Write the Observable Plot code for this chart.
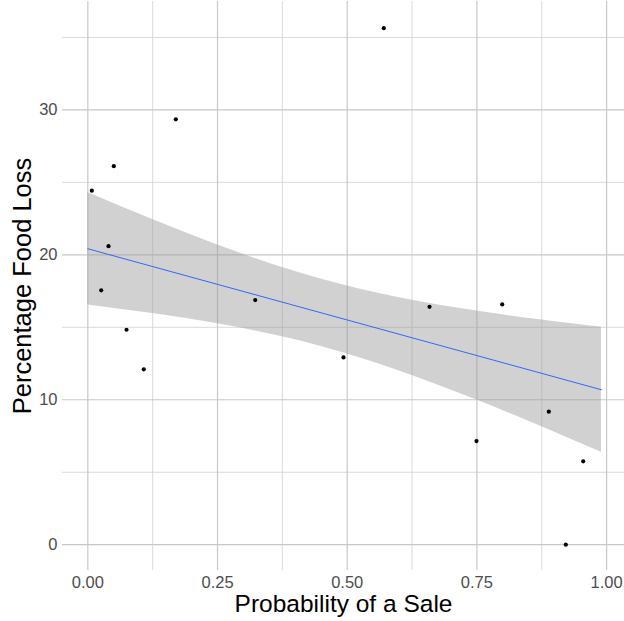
<!DOCTYPE html>
<html>
<head>
<meta charset="utf-8">
<script src="https://cdn.jsdelivr.net/npm/d3@7"></script>
<script src="https://cdn.jsdelivr.net/npm/@observablehq/plot@0.6"></script>
<style>
  html, body { margin: 0; padding: 0; background: #ffffff; }
</style>
</head>
<body>
<div id="chart"></div>
<script>
// Observed points (x = probability of a sale, y = percentage food loss)
const saleProb = [0.0077, 0.0501, 0.1696, 0.0399, 0.0258, 0.0746, 0.1079, 0.3227,
                  0.5705, 0.4929, 0.6586, 0.7988, 0.7492, 0.8886, 0.9549, 0.9214];
const foodLoss = [24.43, 26.12, 29.35, 20.60, 17.55, 14.83, 12.10, 16.88,
                  35.64, 12.92, 16.41, 16.58, 7.15, 9.18, 5.75, 0.00];

// Linear fit line (end points)
const fitX = [0, 0.99];
const fitY = [20.42, 10.69];

// 95% confidence band
const bandX  = [0, 0.125, 0.25, 0.375, 0.5, 0.625, 0.75, 0.875, 0.99];
const bandLo = [16.54, 15.95, 15.24, 14.34, 13.16, 11.68, 9.98, 8.14, 6.38];
const bandHi = [24.30, 22.43, 20.68, 19.13, 17.85, 16.87, 16.12, 15.50, 15.00];

// Ticks
const xMajor = [0, 0.25, 0.5, 0.75, 1];
const xMinor = [0.125, 0.375, 0.625, 0.875];
const yMajor = [0, 10, 20, 30];
const yMinor = [5, 15, 25, 35];

const xTitle = "Probability of a Sale";
const yTitle = "Percentage Food Loss";

const points = saleProb.map((x, i) => ({x, y: foodLoss[i]}));
const fit = fitX.map((x, i) => ({x, y: fitY[i]}));
const band = bandX.map((x, i) => ({x, lo: bandLo[i], hi: bandHi[i]}));

const chart = Plot.plot({
  width: 624,
  height: 621,
  marginLeft: 62,
  marginRight: 0,
  marginTop: 1,
  marginBottom: 51,
  style: {fontFamily: "'Liberation Sans', Arial, sans-serif", background: "#ffffff"},
  x: {domain: [-0.0488, 1.0345]},
  y: {domain: [-1.78, 37.48]},
  marks: [
    Plot.gridX(xMinor, {stroke: "#d6d6d6", strokeOpacity: 1, strokeWidth: 0.9}),
    Plot.gridY(yMinor, {stroke: "#d6d6d6", strokeOpacity: 1, strokeWidth: 0.9}),
    Plot.gridX(xMajor, {stroke: "#c8c8c8", strokeOpacity: 1, strokeWidth: 1.2}),
    Plot.gridY(yMajor, {stroke: "#c8c8c8", strokeOpacity: 1, strokeWidth: 1.2}),
    Plot.areaY(band, {x: "x", y1: "lo", y2: "hi", fill: "#999999", fillOpacity: 0.45, curve: "natural"}),
    Plot.line(fit, {x: "x", y: "y", stroke: "#3366FF", strokeWidth: 1}),
    Plot.dot(points, {x: "x", y: "y", r: 2.1, fill: "#000000", stroke: null}),
    Plot.axisX({ticks: xMajor, tickSize: 0, tickPadding: 6, tickFormat: d3.format(".2f"),
                fontSize: 16.5, color: "#4d4d4d", label: null}),
    Plot.axisY({ticks: yMajor, tickSize: 0, tickPadding: 5, tickFormat: d3.format("d"),
                fontSize: 16.5, color: "#4d4d4d", label: null}),
    Plot.text([xTitle], {frameAnchor: "bottom", dy: 41, fontSize: 24.5, fill: "#000000", text: d => d}),
    Plot.text([yTitle], {frameAnchor: "left", textAnchor: "middle", dx: -40, rotate: -90,
                         fontSize: 25.5, fill: "#000000", text: d => d})
  ]
});
document.getElementById("chart").appendChild(chart);
</script>
</body>
</html>
